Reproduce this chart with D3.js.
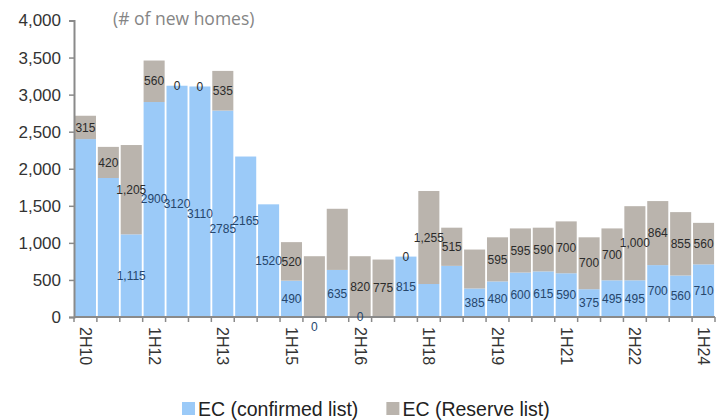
<!DOCTYPE html>
<html>
<head>
<meta charset="utf-8">
<script src="https://cdn.jsdelivr.net/npm/d3@7"></script>
<style>
  body { margin: 0; background: #fff; }
  svg { display: block; }
</style>
</head>
<body>
<svg id="chart" width="728" height="420"></svg>
<script>
// Half-yearly EC launches, split into confirmed list and reserve list
const periods = ["2H10","1H11","2H11","1H12","2H12","1H13","2H13","1H14","2H14","1H15",
                 "2H15","1H16","2H16","1H17","2H17","1H18","2H18","1H19","2H19","1H20",
                 "2H20","1H21","2H21","1H22","2H22","1H23","2H23","1H24"];
const confirmedList = [2400,1875,1115,2900,3120,3110,2785,2165,1520,490,
                       0,635,0,0,815,445,690,385,480,600,
                       615,590,375,495,495,700,560,710];
const reserveList   = [315,420,1205,560,0,0,535,0,0,520,
                       820,825,820,775,0,1255,515,525,595,595,
                       590,700,700,700,1000,864,855,560];
// which value labels are written, and which use a thousands separator
const unlabelledConfirmed = [0,1,13,15,16];
const unlabelledReserve   = [7,8,10,11,17];
const commaConfirmed = [2];
const commaReserve   = [2,15,24];
const axisLabelStep = 3;
const yTickValues = [0,500,1000,1500,2000,2500,3000,3500,4000];
const seriesNames = ["EC (confirmed list)", "EC (Reserve list)"];

const COLORS = { confirmed: "#9bcaf8", reserve: "#bab4ad", axis: "#8a8a8a" };
const svg = d3.select("#chart");
const plotLeft = 74, plotRight = 715, plotTop = 20.5, plotBottom = 317;

const x = d3.scaleBand().domain(periods).range([plotLeft, plotRight])
  .paddingInner(0.08).paddingOuter(0.04);
const y = d3.scaleLinear().domain([0, 4000]).range([plotBottom, plotTop]);

const rows = periods.map((p, i) => ({
  period: p, i, confirmed: confirmedList[i], reserve: reserveList[i]
}));

// stacked bars
const g = svg.append("g");
g.selectAll("rect.confirmed").data(rows).join("rect")
  .attr("class", "confirmed")
  .attr("x", d => x(d.period)).attr("width", x.bandwidth())
  .attr("y", d => y(d.confirmed)).attr("height", d => y(0) - y(d.confirmed))
  .attr("fill", COLORS.confirmed);
g.selectAll("rect.reserve").data(rows).join("rect")
  .attr("class", "reserve")
  .attr("x", d => x(d.period)).attr("width", x.bandwidth())
  .attr("y", d => y(d.confirmed + d.reserve)).attr("height", d => y(d.confirmed) - y(d.confirmed + d.reserve))
  .attr("fill", COLORS.reserve);

// y axis
const yAxis = svg.append("g").attr("transform", `translate(${plotLeft},0)`)
  .call(d3.axisLeft(y).tickValues(yTickValues).tickSize(5).tickPadding(8).tickFormat(d3.format(",")));
yAxis.select(".domain").attr("stroke", COLORS.axis).attr("stroke-width", 2);
yAxis.selectAll(".tick line").attr("stroke", COLORS.axis).attr("stroke-width", 1.5);
yAxis.selectAll(".tick text").attr("font-family", "Liberation Sans, Arial, sans-serif")
  .attr("font-size", 17).attr("fill", "#333");

// x axis: ticks at category boundaries, labels every third period
const step = x.step();
const firstEdge = x(periods[0]) - x.paddingInner() * step / 2;
const xAxisG = svg.append("g");
xAxisG.append("line").attr("x1", plotLeft).attr("x2", plotRight).attr("y1", plotBottom).attr("y2", plotBottom)
  .attr("stroke", COLORS.axis).attr("stroke-width", 2);
xAxisG.selectAll("line.tk").data(d3.range(periods.length + 1)).join("line")
  .attr("class", "tk")
  .attr("x1", k => firstEdge + k * step)
  .attr("x2", k => firstEdge + k * step)
  .attr("y1", plotBottom).attr("y2", plotBottom + 5)
  .attr("stroke", COLORS.axis).attr("stroke-width", 1.5);
xAxisG.selectAll("text").data(periods.filter((p, i) => i % axisLabelStep === 0)).join("text")
  .attr("transform", p => `translate(${x(p) + x.bandwidth() / 2},${plotBottom + 10}) rotate(90)`)
  .attr("dy", "0.35em")
  .attr("font-family", "Liberation Sans, Arial, sans-serif").attr("font-size", 16)
  .attr("fill", "#333").text(p => p);

// value labels centred in each segment; a few crowded ones are nudged vertically
const confirmedNudge = { 3: -11, 4: 2, 5: 12, 6: 15, 7: -16, 10: 10 };
const fmtComma = d3.format(","), fmtPlain = d3.format("d");
const labels = [];
rows.forEach(d => {
  if (!unlabelledConfirmed.includes(d.i)) labels.push({
    d, text: (commaConfirmed.includes(d.i) ? fmtComma : fmtPlain)(d.confirmed),
    yc: (y(0) + y(d.confirmed)) / 2 + (confirmedNudge[d.i] || 0), color: "#26466c"
  });
  if (!unlabelledReserve.includes(d.i)) labels.push({
    d, text: (commaReserve.includes(d.i) ? fmtComma : fmtPlain)(d.reserve),
    yc: (y(d.confirmed) + y(d.confirmed + d.reserve)) / 2, color: "#2b2b2b"
  });
});
svg.append("g").selectAll("text").data(labels).join("text")
  .attr("x", l => x(l.d.period) + x.bandwidth() / 2)
  .attr("y", l => l.yc).attr("dy", "0.35em")
  .attr("text-anchor", "middle")
  .attr("font-family", "Liberation Sans, Arial, sans-serif").attr("font-size", 12)
  .attr("fill", l => l.color).text(l => l.text);

// unit note
svg.append("text").attr("x", 113).attr("y", 25)
  .attr("font-family", "Open Sans, sans-serif").attr("font-size", 17.5)
  .attr("fill", "#858585").text("(# of new homes)");

// legend
const legend = svg.append("g").attr("font-family", "Liberation Sans, Arial, sans-serif").attr("font-size", 19.5);
const legendItems = [
  { name: seriesNames[0], color: COLORS.confirmed },
  { name: seriesNames[1], color: COLORS.reserve }
];
let lx = 182;
legendItems.forEach(it => {
  legend.append("rect").attr("x", lx).attr("y", 402).attr("width", 13).attr("height", 13).attr("fill", it.color);
  const t = legend.append("text").attr("x", lx + 16).attr("y", 415.5).attr("fill", "#222").text(it.name);
  lx += 16 + t.node().getComputedTextLength() + 28;
});
</script>
</body>
</html>
